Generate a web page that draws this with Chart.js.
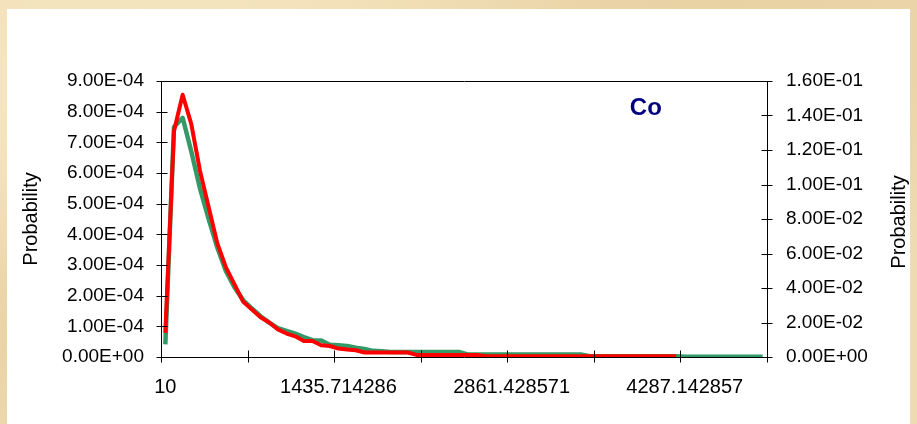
<!DOCTYPE html>
<html>
<head>
<meta charset="utf-8">
<script src="https://cdn.jsdelivr.net/npm/chart.js@4.4.1/dist/chart.umd.min.js"></script>
<style>
  html, body { margin: 0; padding: 0; }
  body {
    width: 917px; height: 424px; overflow: hidden; position: relative;
    background-color: #efdbb1;
    background-image:
      radial-gradient(ellipse at 15% 20%, rgba(250, 238, 205, 0.7), rgba(250, 238, 205, 0) 45%),
      radial-gradient(ellipse at 80% 10%, rgba(226, 200, 150, 0.6), rgba(226, 200, 150, 0) 40%),
      radial-gradient(ellipse at 5% 80%, rgba(230, 205, 160, 0.6), rgba(230, 205, 160, 0) 40%);
  }
  #panel { position: absolute; left: 7px; top: 9px; width: 903px; height: 415px; background: #ffffff; }
  canvas { display: block; }
</style>
</head>
<body>
<div id="panel"><canvas id="chart" width="903" height="415"></canvas></div>
<script>
// Bin centres (value classes) along the horizontal axis
const categories = [
  '10', '81.285714', '152.571429', '223.857143', '295.142857', '366.428571', '437.714286', '509', '580.285714', '651.571429',
  '722.857143', '794.142857', '865.428571', '936.714286', '1008', '1079.285714', '1150.571429', '1221.857143', '1293.142857', '1364.428571',
  '1435.714286', '1507', '1578.285714', '1649.571429', '1720.857143', '1792.142857', '1863.428571', '1934.714286', '2006', '2077.285714',
  '2148.571429', '2219.857143', '2291.142857', '2362.428571', '2433.714286', '2505', '2576.285714', '2647.571429', '2718.857143', '2790.142857',
  '2861.428571', '2932.714286', '3004', '3075.285714', '3146.571429', '3217.857143', '3289.142857', '3360.428571', '3431.714286', '3503',
  '3574.285714', '3645.571429', '3716.857143', '3788.142857', '3859.428571', '3930.714286', '4002', '4073.285714', '4144.571429', '4215.857143',
  '4287.142857', '4358.428571', '4429.714286', '4501', '4572.285714', '4643.571429', '4714.857143', '4786.142857', '4857.428571', '4928.714286'
];

// Fitted density for Co (left axis)
const densityCo = [
  4.1e-5, 7.5e-4, 7.8e-4, 6.7e-4, 5.5e-4, 4.5e-4, 3.57e-4, 2.8e-4, 2.27e-4, 1.85e-4,
  1.58e-4, 1.33e-4, 1.12e-4, 9.4e-5, 8.5e-5, 7.6e-5, 6.5e-5, 5.5e-5, 5.4e-5, 4.0e-5,
  3.8e-5, 3.6e-5, 3.0e-5, 2.6e-5, 2.0e-5, 1.9e-5, 1.6e-5, 1.6e-5, 1.6e-5, 1.6e-5,
  1.6e-5, 1.6e-5, 1.6e-5, 1.6e-5, 1.6e-5, 8e-6, 8e-6, 8e-6, 8e-6, 8e-6,
  8e-6, 8e-6, 8e-6, 8e-6, 8e-6, 8e-6, 8e-6, 8e-6, 8e-6, 2.5e-6,
  2.5e-6, 2.5e-6, 2.5e-6, 2.5e-6, 2.5e-6, 2.5e-6, 2.5e-6, 2.5e-6, 2.5e-6, 2.5e-6,
  1e-6, 1e-6, 1e-6, 1e-6, 1e-6, 1e-6, 1e-6, 1e-6, 1e-6, 1e-6
];

// Observed class probability for Co (right axis)
const probabilityCo = [
  0.014, 0.131, 0.152, 0.135, 0.108, 0.087, 0.066, 0.052, 0.042, 0.032,
  0.0275, 0.023, 0.020, 0.016, 0.0136, 0.012, 0.0093, 0.0093, 0.0068, 0.0064,
  0.0049, 0.0043, 0.0039, 0.0026, 0.0026, 0.0026, 0.0026, 0.0026, 0.0026, 0.0012,
  0.0012, 0.0012, 0.0012, 0.0012, 0.0012, 0.0012, 0.0012, 0.0004, 0.0004, 0.0004,
  0.0004, 0.0004, 0.0004, 0.0004, 0.0004, 0.0004, 0.0004, 0.0004, 0.0004, 0.0004,
  0.0004, 0.0004, 0.0004, 0.0004, 0.0004, 0.0004, 0.0004, 0.0004, 0.0004, 0.0004
];

const xTickLabels = ['10', '1435.714286', '2861.428571', '4287.142857'];
const leftTickLabels = ['0.00E+00', '1.00E-04', '2.00E-04', '3.00E-04', '4.00E-04', '5.00E-04', '6.00E-04', '7.00E-04', '8.00E-04', '9.00E-04'];
const rightTickLabels = ['0.00E+00', '2.00E-02', '4.00E-02', '6.00E-02', '8.00E-02', '1.00E-01', '1.20E-01', '1.40E-01', '1.60E-01'];

const FONT = '"Liberation Sans", Arial, sans-serif';

// Frame, cross-type tick marks, right-hand axis title and the element label
const decorations = {
  id: 'decorations',
  afterDraw(chart) {
    const { ctx, chartArea: a, scales } = chart;
    const al = (p) => Math.round(p) + 0.5;
    const seg = (x1, y1, x2, y2) => { ctx.beginPath(); ctx.moveTo(x1, y1); ctx.lineTo(x2, y2); ctx.stroke(); };
    ctx.save();
    ctx.strokeStyle = '#000';
    ctx.lineWidth = 1;
    const L = al(a.left), R = al(a.right), T = al(a.top), B = al(a.bottom);
    seg(L, T, R, T);
    scales.y.ticks.forEach((t, i) => { const p = al(scales.y.getPixelForTick(i)); seg(L - 5, p, L + 6, p); });
    scales.y1.ticks.forEach((t, i) => { const p = al(scales.y1.getPixelForTick(i)); seg(R - 6, p, R + 5, p); });
    for (let k = 0; k <= categories.length; k += 10) {
      const p = al(scales.x.getPixelForValue(k - 0.5));
      seg(p, B - 7, p, B + 5);
    }
    // right axis title, reading upwards
    ctx.fillStyle = '#000';
    ctx.font = '20px ' + FONT;
    ctx.textAlign = 'center';
    ctx.textBaseline = 'middle';
    ctx.translate(scales.y1.right - 11, (a.top + a.bottom) / 2 + 3);
    ctx.rotate(-Math.PI / 2);
    ctx.fillText('Probability', 0, 0);
    ctx.restore();

    ctx.save();
    ctx.fillStyle = '#000080';
    ctx.font = 'bold 24px ' + FONT;
    ctx.textAlign = 'center';
    ctx.textBaseline = 'middle';
    ctx.fillText('Co', a.left + 0.80 * (a.right - a.left), a.top + 0.098 * (a.bottom - a.top));
    ctx.restore();
  }
};

new Chart(document.getElementById('chart'), {
  type: 'line',
  data: {
    labels: categories,
    datasets: [
      {
        label: 'Probability',
        data: probabilityCo,
        yAxisID: 'y1',
        borderColor: '#ff0000',
        borderWidth: 4,
        borderJoinStyle: 'round',
        pointRadius: 0,
        tension: 0,
        fill: false
      },
      {
        label: 'Density',
        data: densityCo,
        yAxisID: 'y',
        borderColor: '#339966',
        borderWidth: 4.5,
        borderJoinStyle: 'round',
        pointRadius: 0,
        tension: 0,
        fill: false
      }
    ]
  },
  options: {
    responsive: false,
    animation: false,
    events: [],
    layout: { padding: { left: 8, right: 0, top: 72, bottom: 7 } },
    plugins: { legend: { display: false }, tooltip: { enabled: false }, title: { display: false } },
    scales: {
      x: {
        type: 'category',
        offset: true,
        grid: { display: false, drawTicks: false, offset: true },
        border: { display: true, color: '#000', width: 1 },
        ticks: {
          autoSkip: false, minRotation: 0, maxRotation: 0, padding: 18, color: '#000',
          font: { family: FONT, size: 20 },
          callback(value) {
            const l = this.getLabelForValue(value);
            return xTickLabels.includes(l) ? l : '';
          }
        },
        afterFit(s) { s.height = 60; }
      },
      y: {
        position: 'left',
        min: 0, max: 9e-4,
        grid: { display: false, drawTicks: false },
        border: { display: true, color: '#000', width: 1 },
        ticks: {
          stepSize: 1e-4, padding: 17, color: '#000',
          font: { family: FONT, size: 19 },
          callback: (v, i) => leftTickLabels[i]
        },
        title: { display: true, text: 'Probability', color: '#000', font: { family: FONT, size: 20 }, padding: { top: 4, bottom: 4 } },
        afterFit(s) { s.width = 146; }
      },
      y1: {
        position: 'right',
        min: 0, max: 0.16,
        grid: { display: false, drawTicks: false },
        border: { display: true, color: '#000', width: 1 },
        ticks: {
          stepSize: 0.02, padding: 19, color: '#000',
          font: { family: FONT, size: 19 },
          callback: (v, i) => rightTickLabels[i]
        },
        afterFit(s) { s.width = 143; }
      }
    }
  },
  plugins: [decorations]
});
</script>
</body>
</html>
